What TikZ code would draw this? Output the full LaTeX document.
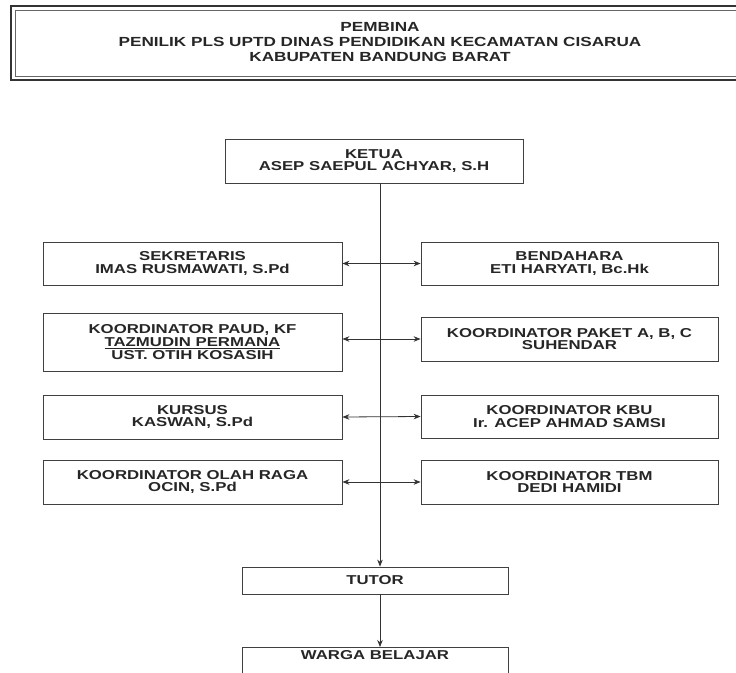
\documentclass[tikz,border=0pt]{standalone}
\usepackage{fontspec}
\setmainfont{Liberation Sans}[FakeStretch=1.3]
\usepackage{tikz}
\usetikzlibrary{arrows.meta,positioning}

\begin{document}
\begin{tikzpicture}
	[x=1pt, y=-1pt, inner sep=0pt, font=\bfseries,
	jabatan/.style	= {rectangle, draw=black!75, line width=0.8pt, fill=white, text=black!85, align=center, minimum width=298pt, minimum height=44pt, font=\fontsize{12.9}{12.7}\selectfont\bfseries},
	paths/.style	= {-{Stealth[length=7pt,width=5.5pt]}, draw=black!80, line width=0.8pt},
	covar/.style	= {{Stealth[length=7pt,width=5.5pt]}-{Stealth[length=7pt,width=5.5pt]}, draw=black!80, line width=0.8pt}]

	\clip (0,0) rectangle (736,672);
	\fill[white] (0,0) rectangle (736,672);

	% pembina
	\draw [black!80, line width=1.8pt] (11,6) rectangle (760,80);
	\draw [black!60, line width=0.8pt] (15,10) rectangle (760,76);
	\node at (380, 42) [align=center, text=black!85, font=\fontsize{13.2}{15}\selectfont\bfseries] (pembina)
		{PEMBINA\\PENILIK PLS UPTD DINAS PENDIDIKAN KECAMATAN CISARUA\\KABUPATEN BANDUNG BARAT};

	\coordinate (spine) at (380, 0);

	\node at (374, 161)		[jabatan]	(ketua)		{KETUA\\ASEP SAEPUL ACHYAR, S.H};
	\node at (192.5, 263.5)	[jabatan, minimum width=299pt, minimum height=43pt]	(sekretaris)	{SEKRETARIS\\IMAS RUSMAWATI, S.Pd};
	\node at (569.5, 263.5)	[jabatan, minimum width=297pt, minimum height=43pt]	(bendahara)	{BENDAHARA\\ETI HARYATI, Bc.Hk};
	\node at (192.5, 342)	[jabatan, minimum width=299pt, minimum height=58pt]	(paud)		{KOORDINATOR PAUD, KF\\\underline{TAZMUDIN PERMANA}\\UST. OTIH KOSASIH};
	\node at (569.5, 339)	[jabatan, minimum width=297pt]	(paket)		{KOORDINATOR PAKET A, B, C\\SUHENDAR};
	\node at (192.5, 417)	[jabatan, minimum width=299pt]	(kursus)	{KURSUS\\KASWAN, S.Pd};
	\node at (569.5, 416.5)	[jabatan, minimum width=297pt, minimum height=43pt]	(kbu)		{KOORDINATOR KBU\\Ir. ACEP AHMAD SAMSI};
	\node at (192.5, 482)	[jabatan, minimum width=299pt]	(olahraga)	{KOORDINATOR OLAH RAGA\\OCIN, S.Pd};
	\node at (569.5, 482)	[jabatan, minimum width=297pt]	(tbm)		{KOORDINATOR TBM\\DEDI HAMIDI};
	\node at (375, 580.5)	[jabatan, minimum width=266pt, minimum height=27pt]	(tutor)		{TUTOR};
	\node at (375, 647)		[jabatan, anchor=north, minimum width=266pt, minimum height=0pt, text height=12.5pt, text depth=40pt]	(warga)	{WARGA BELAJAR};

	\draw [paths] (ketua.south -| spine) -- (tutor.north -| spine);
	\draw [paths] (tutor.south -| spine) -- (warga.north -| spine);

	\draw [covar] (sekretaris.east) -- (bendahara.west);
	\draw [covar] (paud.east |- paket.west) -- (paket.west);
	\draw [covar] (kursus.east) -- (kbu.west);
	\draw [covar] (olahraga.east) -- (tbm.west);

\end{tikzpicture}
\end{document}
